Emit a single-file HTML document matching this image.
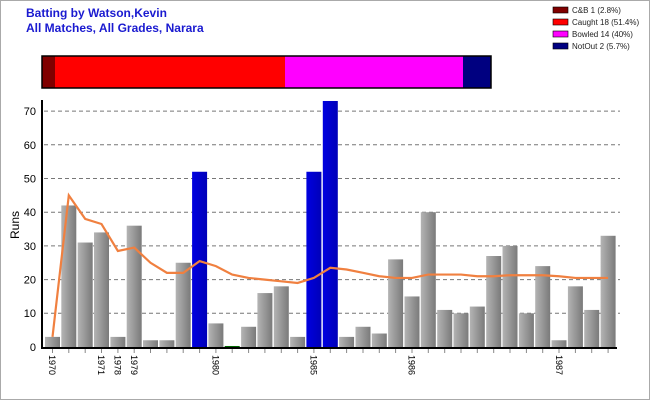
<!DOCTYPE html>
<html><head><style>
body{margin:0;background:#fff;}
svg{display:block;font-family:"Liberation Sans",sans-serif;}
</style></head><body>
<svg width="650" height="400" viewBox="0 0 650 400">
<defs>
<linearGradient id="g" x1="0" x2="1"><stop offset="0" stop-color="#b4b4b4"/><stop offset="1" stop-color="#7a7a7a"/></linearGradient>
<linearGradient id="b" x1="0" x2="1"><stop offset="0" stop-color="#0000e0"/><stop offset="1" stop-color="#0000b8"/></linearGradient>
</defs>
<rect x="0.5" y="0.5" width="649" height="399" fill="#fff" stroke="#aaa"/>
<text x="26" y="17" font-size="12" font-weight="bold" fill="#1a1ad0">Batting by Watson,Kevin</text>
<text x="26" y="32" font-size="12" font-weight="bold" fill="#1a1ad0">All Matches, All Grades, Narara</text>
<g font-size="8" fill="#222">
<rect x="553" y="7" width="15" height="6" fill="#800000" stroke="#000" stroke-width=".6"/><text x="572" y="13">C&amp;B 1 (2.8%)</text>
<rect x="553" y="19" width="15" height="6" fill="#ff0000" stroke="#000" stroke-width=".6"/><text x="572" y="25">Caught 18 (51.4%)</text>
<rect x="553" y="31" width="15" height="6" fill="#ff00ff" stroke="#000" stroke-width=".6"/><text x="572" y="37">Bowled 14 (40%)</text>
<rect x="553" y="43" width="15" height="6" fill="#000080" stroke="#000" stroke-width=".6"/><text x="572" y="49">NotOut 2 (5.7%)</text>
</g>
<rect x="42" y="56" width="13" height="32" fill="#800000"/>
<rect x="55" y="56" width="230" height="32" fill="#ff0000"/>
<rect x="285" y="56" width="178" height="32" fill="#ff00ff"/>
<rect x="463" y="56" width="28" height="32" fill="#000080"/>
<rect x="42" y="56" width="449" height="32" fill="none" stroke="#000" stroke-width="1.5"/>
<g stroke="#777" stroke-dasharray="4,3" stroke-width="1">
<line x1="44" x2="620" y1="313.3" y2="313.3"/><line x1="44" x2="620" y1="279.6" y2="279.6"/>
<line x1="44" x2="620" y1="245.9" y2="245.9"/><line x1="44" x2="620" y1="212.2" y2="212.2"/>
<line x1="44" x2="620" y1="178.5" y2="178.5"/><line x1="44" x2="620" y1="144.8" y2="144.8"/>
<line x1="44" x2="620" y1="111.1" y2="111.1"/>
</g>
<g transform="translate(0,347) scale(1,-3.37)">
<rect x="45" width="15" height="3" fill="url(#g)"/>
<rect x="61.3" width="15" height="42" fill="url(#g)"/>
<rect x="77.7" width="15" height="31" fill="url(#g)"/>
<rect x="94" width="15" height="34" fill="url(#g)"/>
<rect x="110.4" width="15" height="3" fill="url(#g)"/>
<rect x="126.7" width="15" height="36" fill="url(#g)"/>
<rect x="143" width="15" height="2" fill="url(#g)"/>
<rect x="159.4" width="15" height="2" fill="url(#g)"/>
<rect x="175.7" width="15" height="25" fill="url(#g)"/>
<rect x="192.1" width="15" height="52" fill="url(#b)"/>
<rect x="208.4" width="15" height="7" fill="url(#g)"/>
<rect x="224.7" width="15" height="0.3" fill="#060"/>
<rect x="241.1" width="15" height="6" fill="url(#g)"/>
<rect x="257.4" width="15" height="16" fill="url(#g)"/>
<rect x="273.8" width="15" height="18" fill="url(#g)"/>
<rect x="290.1" width="15" height="3" fill="url(#g)"/>
<rect x="306.4" width="15" height="52" fill="url(#b)"/>
<rect x="322.8" width="15" height="73" fill="url(#b)"/>
<rect x="339.1" width="15" height="3" fill="url(#g)"/>
<rect x="355.5" width="15" height="6" fill="url(#g)"/>
<rect x="371.8" width="15" height="4" fill="url(#g)"/>
<rect x="388.1" width="15" height="26" fill="url(#g)"/>
<rect x="404.5" width="15" height="15" fill="url(#g)"/>
<rect x="420.8" width="15" height="40" fill="url(#g)"/>
<rect x="437.2" width="15" height="11" fill="url(#g)"/>
<rect x="453.5" width="15" height="10" fill="url(#g)"/>
<rect x="469.8" width="15" height="12" fill="url(#g)"/>
<rect x="486.2" width="15" height="27" fill="url(#g)"/>
<rect x="502.5" width="15" height="30" fill="url(#g)"/>
<rect x="518.9" width="15" height="10" fill="url(#g)"/>
<rect x="535.2" width="15" height="24" fill="url(#g)"/>
<rect x="551.5" width="15" height="2" fill="url(#g)"/>
<rect x="567.9" width="15" height="18" fill="url(#g)"/>
<rect x="584.2" width="15" height="11" fill="url(#g)"/>
<rect x="600.6" width="15" height="33" fill="url(#g)"/>
<polyline fill="none" stroke="#f08040" stroke-width="2.2" vector-effect="non-scaling-stroke" points="52.5,3 68.8,45 85.2,38 101.5,36.5 117.9,28.5 134.2,29.5 150.5,25 166.9,22 183.2,22 199.6,25.5 215.9,24 232.2,21.5 248.6,20.5 264.9,20 281.3,19.5 297.6,19 313.9,20.5 330.3,23.5 346.6,23 363,22 379.3,21 395.6,20.5 412,20.5 428.3,21.5 444.7,21.5 461,21.5 477.3,21 493.7,21 510,21.3 526.4,21.3 542.7,21.3 559,21 575.4,20.5 591.7,20.5 608.1,20.5"/>
</g>
<line x1="42" y1="100" x2="42" y2="348" stroke="#000" stroke-width="2"/>
<line x1="41" y1="348" x2="617" y2="348" stroke="#000" stroke-width="2"/>
<g stroke="#888" stroke-width="1">
<line x1="52.5" x2="52.5" y1="349" y2="353"/><line x1="68.8" x2="68.8" y1="349" y2="353"/><line x1="85.2" x2="85.2" y1="349" y2="353"/><line x1="101.5" x2="101.5" y1="349" y2="353"/><line x1="117.9" x2="117.9" y1="349" y2="353"/><line x1="134.2" x2="134.2" y1="349" y2="353"/><line x1="150.5" x2="150.5" y1="349" y2="353"/><line x1="166.9" x2="166.9" y1="349" y2="353"/><line x1="183.2" x2="183.2" y1="349" y2="353"/><line x1="199.6" x2="199.6" y1="349" y2="353"/><line x1="215.9" x2="215.9" y1="349" y2="353"/><line x1="232.2" x2="232.2" y1="349" y2="353"/><line x1="248.6" x2="248.6" y1="349" y2="353"/><line x1="264.9" x2="264.9" y1="349" y2="353"/><line x1="281.3" x2="281.3" y1="349" y2="353"/><line x1="297.6" x2="297.6" y1="349" y2="353"/><line x1="313.9" x2="313.9" y1="349" y2="353"/><line x1="330.3" x2="330.3" y1="349" y2="353"/><line x1="346.6" x2="346.6" y1="349" y2="353"/><line x1="363" x2="363" y1="349" y2="353"/><line x1="379.3" x2="379.3" y1="349" y2="353"/><line x1="395.6" x2="395.6" y1="349" y2="353"/><line x1="412" x2="412" y1="349" y2="353"/><line x1="428.3" x2="428.3" y1="349" y2="353"/><line x1="444.7" x2="444.7" y1="349" y2="353"/><line x1="461" x2="461" y1="349" y2="353"/><line x1="477.3" x2="477.3" y1="349" y2="353"/><line x1="493.7" x2="493.7" y1="349" y2="353"/><line x1="510" x2="510" y1="349" y2="353"/><line x1="526.4" x2="526.4" y1="349" y2="353"/><line x1="542.7" x2="542.7" y1="349" y2="353"/><line x1="559" x2="559" y1="349" y2="353"/><line x1="575.4" x2="575.4" y1="349" y2="353"/><line x1="591.7" x2="591.7" y1="349" y2="353"/><line x1="608.1" x2="608.1" y1="349" y2="353"/>
</g>
<g font-size="11" fill="#000" text-anchor="end">
<text x="36" y="351">0</text><text x="36" y="317">10</text><text x="36" y="283.5">20</text><text x="36" y="250">30</text><text x="36" y="216">40</text><text x="36" y="182.5">50</text><text x="36" y="149">60</text><text x="36" y="115">70</text>
</g>
<text transform="translate(19,225) rotate(-90)" font-size="12" text-anchor="middle">Runs</text>
<g font-size="9" fill="#000">
<text transform="translate(49,355) rotate(90)">1970</text>
<text transform="translate(98,355) rotate(90)">1971</text>
<text transform="translate(114.5,355) rotate(90)">1978</text>
<text transform="translate(131,355) rotate(90)">1979</text>
<text transform="translate(212.5,355) rotate(90)">1980</text>
<text transform="translate(310.5,355) rotate(90)">1985</text>
<text transform="translate(408.5,355) rotate(90)">1986</text>
<text transform="translate(556,355) rotate(90)">1987</text>
</g>
</svg>
</body></html>
